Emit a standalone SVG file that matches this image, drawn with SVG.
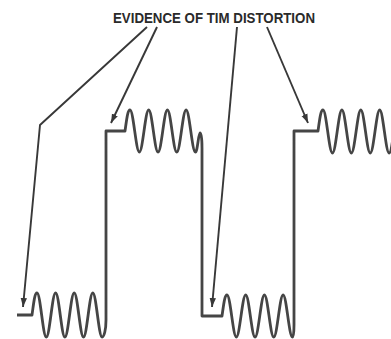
<svg xmlns="http://www.w3.org/2000/svg" width="391" height="339" viewBox="0 0 391 339">
  <style>
    .wave { fill: none; stroke: #454545; stroke-width: 2.8; stroke-linejoin: round; stroke-linecap: butt; }
    .arrow { fill: none; stroke: #383838; stroke-width: 1.9; stroke-linejoin: round; }
    .label { font-family: "Liberation Sans", Arial, sans-serif; font-weight: bold; font-size: 15px; fill: #2a2a2a; }
  </style>
  <defs>
    <marker id="head" markerUnits="userSpaceOnUse" markerWidth="10" markerHeight="8" refX="9" refY="4" orient="auto">
      <path d="M0,0.8 L9,4 L0,7.2 Z" fill="#383838"/>
    </marker>
  </defs>
  <rect width="391" height="339" fill="#ffffff"/>

  <g id="label">
    <text class="label" x="113" y="23" textLength="202" lengthAdjust="spacingAndGlyphs">EVIDENCE OF TIM DISTORTION</text>
  </g>

  <g id="waveform">
    <path class="wave" d="M17,315 H32 C33.5,305 34.5,293 37,293 C40.4,293 42.9,337 46.3,337 S52.2,293 55.6,293 S61.5,337 64.9,337 S70.8,293 74.2,293 S80.1,337 83.5,337 S89.4,293 92.8,293 S98.7,337 102.1,337 C104,337 106,330 106,320 V131 H125 C126.5,121 127.5,110 130,110 C133.4,110 136,152 139.35,152 S145.3,110 148.7,110 S154.6,152 158.05,152 S164,110 167.4,110 S173.3,152 176.75,152 S182.7,110 186.1,110 S192,152 195.45,152 C197.5,152 198.5,133 200,133 C201.5,133 202,140 202,148 V316 H222 C223.5,306 224.5,295 227,295 C230.4,295 233,337 236.35,337 S242.3,295 245.7,295 S251.6,337 255.05,337 S261,295 264.4,295 S270.3,337 273.75,337 S279.7,295 283.1,295 S289,337 292.45,337 C293.5,337 294,332 294,325 V131 H318 C319.5,121 320.5,110 323,110 C326.4,110 329,153 332.45,153 S338.5,110 341.9,110 S347.9,153 351.35,153 S357.4,110 360.8,110 S366.8,153 370.25,153 S376.3,110 379.7,110 S385.7,153 389.15,153 S395.2,110 398.6,110"/>
  </g>

  <g id="connectors">
    <path class="arrow" d="M147,27 L40,125 L23,307" marker-end="url(#head)"/>
    <path class="arrow" d="M157,27 L111,123" marker-end="url(#head)"/>
    <path class="arrow" d="M237,27 L212,307" marker-end="url(#head)"/>
    <path class="arrow" d="M267,27 L308,123" marker-end="url(#head)"/>
  </g>
</svg>
